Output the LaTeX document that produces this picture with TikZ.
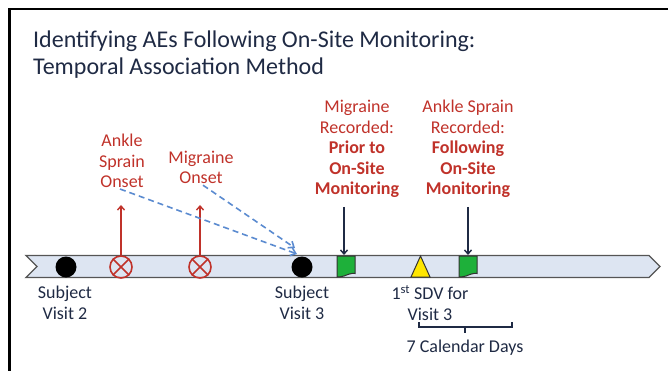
\documentclass[tikz,border=0pt]{standalone}
\usepackage{fontspec}
\setmainfont{Carlito}
\usetikzlibrary{arrows.meta}
\definecolor{aered}{RGB}{192,50,42}
\definecolor{navy}{RGB}{31,42,68}
\definecolor{bandfill}{RGB}{221,229,242}
\definecolor{bandline}{RGB}{85,85,85}
\definecolor{tabgreen}{RGB}{30,176,58}
\definecolor{sdvyellow}{RGB}{255,230,0}
\definecolor{linkblue}{RGB}{91,139,208}
\begin{document}
\begin{tikzpicture}[x=1pt,y=-1pt,
  txt/.style={align=center, font=\fontsize{18}{20.5}\selectfont, inner sep=0pt},
  redtxt/.style={txt, text=aered},
  navytxt/.style={txt, text=navy},
  titletxt/.style={anchor=base west, inner sep=0pt, text=navy, font=\fontsize{24}{27}\selectfont},
  visit/.style={circle, fill=black, minimum size=21pt, inner sep=0pt},
  onset/.style={circle, draw=aered, line width=1.6pt, minimum size=22pt, inner sep=0pt},
  redarrow/.style={draw=aered, line width=1.4pt, -{Straight Barb[length=4pt,width=7pt]}},
  navyarrow/.style={draw=navy, line width=1.4pt, -{Straight Barb[length=4pt,width=7pt]}},
  linkarrow/.style={draw=linkblue, line width=1.6pt, dash pattern=on 6pt off 4pt, -{Straight Barb[length=5pt,width=8pt]}},
  tabshape/.style={fill=tabgreen, draw=black!80, line width=1pt},
]
\useasboundingbox (0,0) rectangle (668,371);

% frame
\draw[line width=2.5pt] (9.5,371) -- (9.5,9) -- (668,9);

% title
\node[titletxt] (title1) at (33,47.5) {Identifying AEs Following On-Site Monitoring:};
\node[titletxt] (title2) at (33,74.5) {Temporal Association Method};

% timeline band
\draw[fill=bandfill, draw=bandline, line width=1.3pt]
  (26,255.5) -- (649,255.5) -- (660,266.5) -- (649,277.5) -- (26,277.5) -- (37,266.5) -- cycle;

% visits
\node[visit] (v2) at (66,267) {};
\node[visit] (v3) at (302,267) {};

% onsets
\node[onset] (o1) at (121,267) {};
\node[onset] (o2) at (200,267) {};
\foreach \o in {o1,o2}{
  \draw[aered, line width=1.6pt] (\o.north east) -- (\o.south west) (\o.north west) -- (\o.south east);
}

% recorded AEs
\newcommand\aetab[1]{%
  \draw[tabshape, shift={#1}] (-9,0) -- (9,0) -- (9,17.5)
    .. controls (5,17) and (2,18.5) .. (-2,20) .. controls (-5,21) and (-8,21) .. (-9,21) -- cycle;}
\aetab{(346,256)}
\aetab{(468,256)}
\coordinate (tab1) at (344,255);
\coordinate (tab2) at (468,255);

% first SDV
\draw[fill=sdvyellow, draw=black!80, line width=1pt] (411,277) -- (420.5,256) -- (430,277) -- cycle;

% labels above
\node[redtxt] (asonset) at (122,161) {Ankle\\Sprain\\Onset};
\node[redtxt] (mgonset) at (201,167.5) {Migraine\\Onset};
\node[redtxt] (mgrec) at (357,149) {Migraine\\Recorded:\\\textbf{Prior to}\\\textbf{On-Site}\\\textbf{Monitoring}};
\node[redtxt] (asrec) at (468,149) {Ankle Sprain\\Recorded:\\\textbf{Following}\\\textbf{On-Site}\\\textbf{Monitoring}};

% labels below
\node[navytxt] (v2lab) at (65,303) {Subject\\Visit 2};
\node[navytxt] (v3lab) at (302,303) {Subject\\Visit 3};
\node[navytxt] (sdvlab) at (430,303) {1\textsuperscript{st} SDV for\\Visit 3};
\node[navytxt] (days) at (465,348) {7 Calendar Days};

% onset arrows
\coordinate (o1tip) at (121,205);
\coordinate (o2tip) at (200,205);
\draw[redarrow] (o1.north) -- (o1tip);
\draw[redarrow] (o2.north) -- (o2tip);

% temporal association links
\coordinate (asend) at (297,254);
\coordinate (mgend) at (295,248);
\draw[linkarrow] (asonset.south) ++(-2,1) -- (asend);
\draw[linkarrow] (mgonset.south) ++(2,1) -- (mgend);

% recorded arrows
\draw[navyarrow, shorten <=9pt] (mgrec.south -| tab1) -- (tab1);
\draw[navyarrow, shorten <=9pt] (asrec.south -| tab2) -- (tab2);

% seven-day window
\draw[navy, line width=1.4pt] (419,322) -- (419,327) -- (512,327) -- (512,322);
\draw[navy, line width=1.4pt] (465,327) -- (465,333);
\end{tikzpicture}
\end{document}
